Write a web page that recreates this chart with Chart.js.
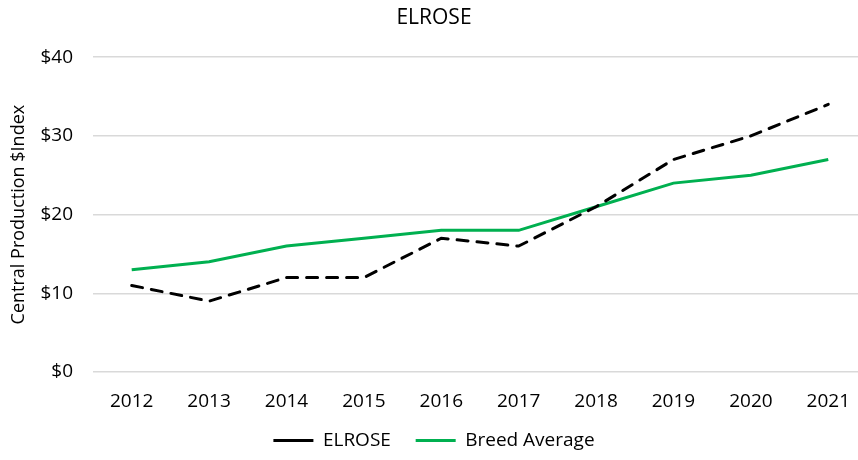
<!DOCTYPE html>
<html>
<head>
<meta charset="utf-8">
<script src="https://cdn.jsdelivr.net/npm/chart.js@4"></script>
<style>
  html, body { margin: 0; padding: 0; background: #fff; overflow: hidden; }
  #wrap { width: 868px; height: 460px; }
</style>
</head>
<body>
<div id="wrap"><canvas id="chart"></canvas></div>
<script>
var years = ['2012', '2013', '2014', '2015', '2016', '2017', '2018', '2019', '2020', '2021'];
var elrose = [11, 9, 12, 12, 17, 16, 21, 27, 30, 34];
var breedAverage = [13, 14, 16, 17, 18, 18, 21, 24, 25, 27];
var yTicks = [0, 10, 20, 30, 40];

var font = '"Open Sans", sans-serif';

var ctx = document.getElementById('chart').getContext('2d');
new Chart(ctx, {
    type: 'line',
    data: {
        labels: years,
        datasets: [{
            label: 'ELROSE',
            data: elrose,
            borderColor: '#000000',
            backgroundColor: '#000000',
            borderWidth: 3,
            borderDash: [11, 9],
            borderCapStyle: 'round',
            pointRadius: 0,
            tension: 0
        }, {
            label: 'Breed Average',
            data: breedAverage,
            borderColor: '#00b050',
            backgroundColor: '#00b050',
            borderWidth: 3,
            pointRadius: 0,
            tension: 0
        }]
    },
    options: {
        responsive: true,
        maintainAspectRatio: false,
        animation: false,
        layout: { padding: 0 },
        plugins: {
            title: {
                display: true,
                text: 'ELROSE',
                color: '#000',
                font: { family: font, size: 21, weight: 'normal' },
                padding: { top: 5, bottom: 27 }
            },
            legend: {
                position: 'bottom',
                labels: {
                    color: '#000',
                    font: { family: font, size: 19 },
                    boxWidth: 40,
                    boxHeight: 0,
                    padding: 10,
                    generateLabels: function (chart) {
                        return chart.data.datasets.map(function (ds, i) {
                            return {
                                // trailing spaces widen the gap between the two entries
                                text: i === 0 ? ds.label + '   ' : ds.label,
                                strokeStyle: ds.borderColor,
                                fillStyle: ds.borderColor,
                                lineWidth: 3,
                                lineDash: ds.borderDash || [],
                                datasetIndex: i
                            };
                        });
                    }
                }
            },
            tooltip: { enabled: false }
        },
        scales: {
            x: {
                offset: true,
                grid: { display: false, drawTicks: false },
                border: { display: false },
                afterFit: function (scale) { scale.height = 49; },
                ticks: { color: '#000', font: { family: font, size: 19 }, padding: 18 }
            },
            y: {
                min: 0,
                max: 40,
                afterBuildTicks: function (scale) {
                    scale.ticks = yTicks.map(function (v) { return { value: v }; });
                },
                afterFit: function (scale) { scale.width = 93; },
                grid: { color: '#d9d9d9', lineWidth: 1.5, drawTicks: false },
                border: { display: false },
                title: {
                    display: true,
                    text: 'Central Production $Index',
                    color: '#000',
                    font: { family: font, size: 18 },
                    padding: { top: 8, bottom: 0 }
                },
                ticks: {
                    color: '#000',
                    font: { family: font, size: 19 },
                    padding: 20,
                    callback: function (v) { return '$' + v; }
                }
            }
        }
    }
});
</script>
</body>
</html>
